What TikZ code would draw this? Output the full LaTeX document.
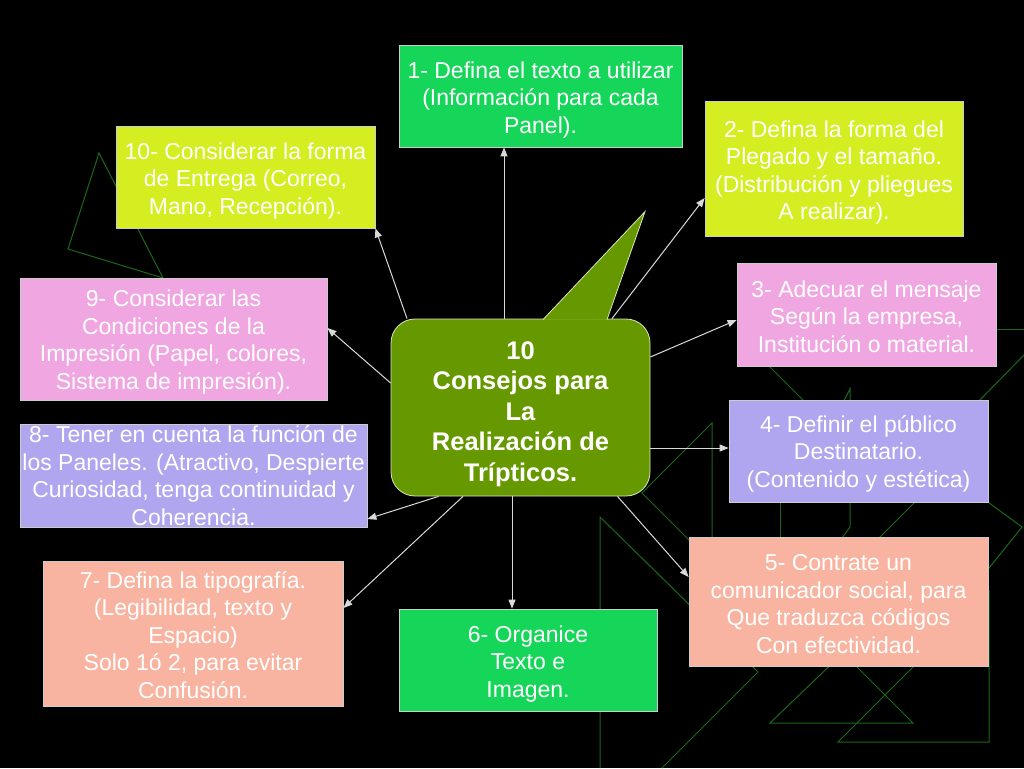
\documentclass[tikz,border=0pt]{standalone}
\usepackage{fontspec}
\setmainfont{Liberation Sans}
\usetikzlibrary{arrows.meta,calc}

\definecolor{tipgreen}{RGB}{22,214,90}
\definecolor{tiplime}{RGB}{212,238,34}
\definecolor{tippink}{RGB}{240,166,224}
\definecolor{tiplilac}{RGB}{176,166,240}
\definecolor{tipsalmon}{RGB}{248,180,160}
\definecolor{calloutgreen}{RGB}{102,153,0}
\definecolor{decogreen}{RGB}{26,104,26}

% taller first line, pushes the text block down a little
\newcommand{\liftline}[1]{\rule{0pt}{#1}}

\begin{document}
\begin{tikzpicture}[x=1pt,y=-1pt,
    tipbox/.style={draw=white!80!black, line width=0.8pt, text=white, align=center,
        inner sep=0pt, font=\fontsize{23}{27.5}\selectfont},
    link/.style={draw=white!85!black, line width=1pt, -{Triangle[length=9pt,width=7pt]}},
    deco/.style={draw=decogreen, line width=1pt}]

    % Background
    \fill[black] (0,0) rectangle (1024,768);
    \useasboundingbox (0,0) rectangle (1024,768);

    % Background Triangles
    % -- top left
    \draw[deco] (99,153) -- (68,249) -- (163,278) -- cycle;
    % -- right side
    \draw[deco] (740,337) -- (810,407);
    \draw[deco] (838,412) -- (850,389) -- (850,527) -- (836,546);
    \draw[deco] (712,423) -- (642,493) -- (712,563) -- cycle;
    \draw[deco] (780,495) -- (780,545);
    \draw[deco] (872,545) -- (920,497);
    \draw[deco] (975,405) -- (1024,355);
    \draw[deco] (990,329) -- (1024,329);
    \draw[deco] (981,497) -- (1022,527) -- (981,578);
    % -- bottom
    \draw[deco] (600,768) -- (600,517) -- (758,672) -- (662,768);
    \draw[deco] (770,723) -- (913,723) -- (843,653) -- cycle;
    \draw[deco] (838,742) -- (989,742) -- (989,591) -- cycle;

    % Tip Boxes
    \node[tipbox, fill=tipgreen, minimum width=283pt, minimum height=102pt] (b1) at (540.5,96)
        {\liftline{24pt}1- Defina el texto a utilizar\\(Información para cada\\Panel).};
    \node[tipbox, fill=tiplime, minimum width=258pt, minimum height=135pt] (b2) at (834,168.5)
        {\liftline{25pt}2- Defina la forma del\\Plegado y el tamaño.\\(Distribución y pliegues\\A realizar).};
    \node[tipbox, fill=tippink, minimum width=259pt, minimum height=103pt] (b3) at (866.5,314.5)
        {\liftline{21pt}3- Adecuar el mensaje\\Según la empresa,\\Institución o material.};
    \node[tipbox, fill=tiplilac, minimum width=259pt, minimum height=102pt] (b4) at (858.5,451)
        {\liftline{22pt}4- Definir el público\\Destinatario.\\(Contenido y estética)};
    \node[tipbox, fill=tipsalmon, minimum width=299pt, minimum height=129pt] (b5) at (838.5,601.5)
        {\liftline{21pt}5- Contrate un\\comunicador social, para\\Que traduzca códigos\\Con efectividad.};
    \node[tipbox, fill=tipgreen, minimum width=258pt, minimum height=102pt] (b6) at (528,660)
        {\liftline{24pt}6- Organice\\Texto e\\Imagen.};
    \node[tipbox, fill=tipsalmon, minimum width=300pt, minimum height=145pt] (b7) at (193,633.5)
        {\liftline{20pt}7- Defina la tipografía.\\(Legibilidad, texto y\\Espacio)\\Solo 1ó 2, para evitar\\Confusión.};
    \node[tipbox, fill=tiplilac, minimum width=347pt, minimum height=103pt] (b8) at (193.5,475.5)
        {8- Tener en cuenta la función de\\los Paneles. (Atractivo, Despierte\\Curiosidad, tenga continuidad y\\Coherencia.};
    \node[tipbox, fill=tippink, minimum width=307pt, minimum height=122pt] (b9) at (173.5,339)
        {\liftline{23pt}9- Considerar las\\Condiciones de la\\Impresión (Papel, colores,\\Sistema de impresión).};
    \node[tipbox, fill=tiplime, minimum width=259pt, minimum height=102pt] (b10) at (245.5,177)
        {\liftline{24pt}10- Considerar la forma\\de Entrega (Correo,\\Mano, Recepción).};

    % Central Callout
    \node[draw=white!75!calloutgreen, line width=0.8pt, fill=calloutgreen, rounded corners=24pt,
        minimum width=259pt, minimum height=177pt, inner sep=0pt, text=white, align=center,
        font=\fontsize{25.5}{30.5}\selectfont\bfseries] (c) at (520.5,407.5)
        {\liftline{31pt}10\\Consejos para\\La\\Realización de\\Trípticos.};
    \filldraw[fill=calloutgreen, draw=white!75!calloutgreen, line width=0.8pt]
        ($(c.north)+(22.5,1)$) -- ($(c.north)+(124.5,-107)$) -- ($(c.north)+(86.5,1)$);

    % Arrow Starts
    \coordinate (s1) at ($(c.north)+(-16.5,0)$);
    \coordinate (s2) at ($(c.north)+(91.5,0)$);
    \coordinate (s3) at ($(c.east)+(0,-50.5)$);
    \coordinate (s4) at ($(c.east)+(0,40.5)$);
    \coordinate (s5) at ($(c.south)+(97,0)$);
    \coordinate (s6) at ($(c.south)+(-8.5,0)$);
    \coordinate (s7) at ($(c.south)+(-57.5,0)$);
    \coordinate (s8) at ($(c.south)+(-82,0)$);
    \coordinate (s9) at ($(c.west)+(0,-24.5)$);
    \coordinate (s10) at ($(c.north)+(-113.5,0)$);

    % Arrows
    \draw[link] (s1) -- (s1 |- b1.south);
    \draw[link] (s2) -- ($(b2.west)+(0,29.5)$);
    \draw[link] (s3) -- ($(b3.west)+(0,5.5)$);
    \draw[link] (s4) -- (s4 -| b4.west);
    \draw[link] (s5) -- ($(b5.west)+(0,-24.5)$);
    \draw[link] (s6) -- (s6 |- b6.north);
    \draw[link] (s7) -- ($(b7.east)+(0,-25.5)$);
    \draw[link] (s8) -- ($(b8.east)+(0,43.5)$);
    \draw[link] (s9) -- ($(b9.east)+(0,-11)$);
    \draw[link] (s10) -- (b10.south east);
\end{tikzpicture}
\end{document}
